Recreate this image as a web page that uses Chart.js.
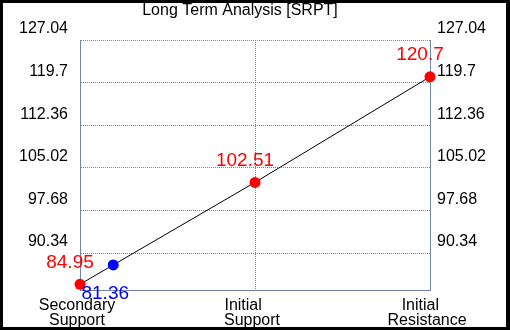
<!DOCTYPE html>
<html>
<head>
<meta charset="utf-8">
<script src="https://cdn.jsdelivr.net/npm/chart.js@4/dist/chart.umd.min.js"></script>
<style>
  html, body { margin: 0; padding: 0; background: #fff; }
  canvas { display: block; }
</style>
</head>
<body>
<canvas id="c" width="510" height="330"></canvas>
<script>
// ---- data ----
const chartTitle = 'Long Term Analysis [SRPT]';
const categories = [['Secondary', 'Support'], ['Initial    ', 'Support'], ['Initial   ', 'Resistance']];
const levelValues = [84.95, 102.51, 120.7];
const currentPrice = 81.36;
const currentPricePos = 0.19; // position along the category axis
const yTicks = [90.34, 97.68, 105.02, 112.36, 119.7, 127.04];
const yMin = 83.97;
const yMax = 127.04;

const FONT = '"Liberation Sans", Arial, sans-serif';
const gridColor = '#6f86a6';
const axisColor = '#6f86a6';

const levelPoints = levelValues.map((v, i) => ({ x: i, y: v }));
// the current-price marker sits on the line between the first two levels
const curY = levelValues[0] + (levelValues[1] - levelValues[0]) * currentPricePos;
const curPoints = [{ x: currentPricePos, y: curY }];

const framePlugin = {
  id: 'frame',
  beforeDraw(chart) {
    const ctx = chart.ctx;
    ctx.save();
    ctx.fillStyle = '#000';
    ctx.fillRect(0, 0, chart.width, chart.height);
    ctx.fillStyle = '#fff';
    ctx.fillRect(3, 3, chart.width - 7, chart.height - 6);
    ctx.fillStyle = '#000';
    ctx.font = '16px ' + FONT;
    ctx.textAlign = 'center';
    ctx.textBaseline = 'middle';
    ctx.fillText(chartTitle, 240, 11);
    ctx.restore();
  }
};

const labelPlugin = {
  id: 'valueLabels',
  afterDatasetsDraw(chart) {
    const ctx = chart.ctx;
    ctx.save();
    ctx.font = '19px ' + FONT;
    ctx.textAlign = 'center';
    ctx.textBaseline = 'middle';
    const lm = chart.getDatasetMeta(1);
    lm.data.forEach((el, i) => {
      ctx.fillStyle = '#ff0000';
      ctx.fillText(String(levelValues[i]), el.x - 10, el.y - 22);
    });
    const cm = chart.getDatasetMeta(0);
    cm.data.forEach(el => {
      ctx.fillStyle = '#0000ff';
      ctx.fillText(String(currentPrice), el.x - 8, el.y + 29);
    });
    ctx.restore();
  }
};

new Chart(document.getElementById('c'), {
  type: 'line',
  data: {
    datasets: [
      {
        data: curPoints,
        showLine: false,
        pointRadius: 5.5,
        pointBackgroundColor: '#0000ff',
        pointBorderWidth: 0,
        clip: false,
        order: 0
      },
      {
        data: levelPoints,
        borderColor: '#000',
        borderWidth: 1,
        pointRadius: 5.5,
        pointBackgroundColor: '#ff0000',
        pointBorderWidth: 0,
        tension: 0,
        clip: false,
        order: 1
      }
    ]
  },
  options: {
    responsive: false,
    animation: false,
    devicePixelRatio: 1,
    layout: { padding: { top: 40, left: 0, right: 0, bottom: 0 } },
    plugins: { legend: { display: false }, tooltip: { enabled: false }, title: { display: false } },
    scales: {
      x: {
        type: 'linear',
        position: 'bottom',
        min: 0,
        max: categories.length - 1,
        afterBuildTicks: s => { s.ticks = categories.map((c, i) => ({ value: i })); },
        afterFit: s => { s.height = 40; },
        ticks: {
          callback: (v, i) => categories[i],
          font: { family: FONT, size: 16, lineHeight: '15px' },
          color: '#000',
          padding: 8,
          labelOffset: -3,
          maxRotation: 0,
          autoSkip: false
        },
        grid: {
          color: c => (c.tick && c.tick.value === 1) ? gridColor : 'rgba(0,0,0,0)',
          drawTicks: false,
          lineWidth: 1
        },
        border: { display: true, color: axisColor, width: 1, dash: [1, 1] }
      },
      y: {
        type: 'linear',
        position: 'left',
        min: yMin,
        max: yMax,
        afterBuildTicks: s => { s.ticks = yTicks.map(v => ({ value: v })); },
        afterFit: s => { s.width = 80; },
        ticks: {
          callback: v => String(v),
          font: { family: FONT, size: 16 },
          color: '#000',
          padding: 12,
          labelOffset: -11
        },
        grid: { color: gridColor, drawTicks: false, lineWidth: 1 },
        border: { display: true, color: axisColor, width: 1, dash: [1, 1] }
      },
      y2: {
        type: 'linear',
        axis: 'y',
        position: 'right',
        min: yMin,
        max: yMax,
        afterBuildTicks: s => { s.ticks = yTicks.map(v => ({ value: v })); },
        afterFit: s => { s.width = 80; },
        ticks: {
          callback: v => String(v),
          font: { family: FONT, size: 16 },
          color: '#000',
          padding: 7,
          labelOffset: -11
        },
        grid: { display: false, drawTicks: false },
        border: { display: true, color: axisColor, width: 1 }
      }
    }
  },
  plugins: [framePlugin, labelPlugin]
});
</script>
</body>
</html>
